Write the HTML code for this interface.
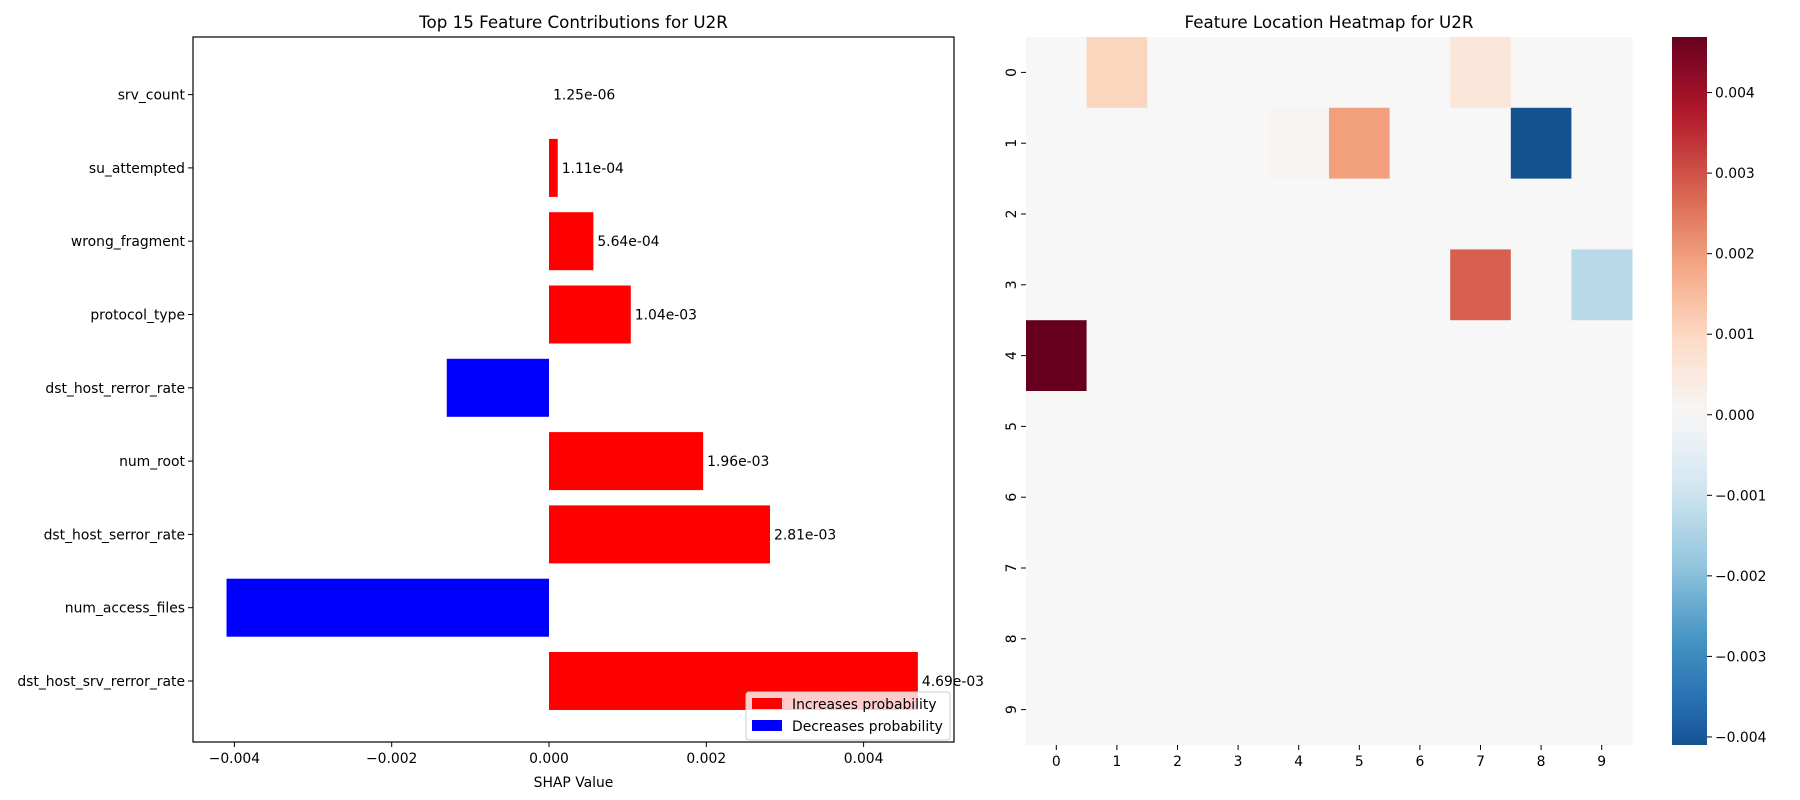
<!DOCTYPE html>
<html><head><meta charset="utf-8"><style>
html,body{margin:0;padding:0;background:#fff}
svg{display:block;font-family:"DejaVu Sans","Liberation Sans",sans-serif}
</style></head><body>
<svg id="chart" width="1800" height="800" viewBox="0 0 1800 800" xmlns="http://www.w3.org/2000/svg"></svg>
<script>
const features = ["dst_host_srv_rerror_rate","num_access_files","dst_host_serror_rate","num_root","dst_host_rerror_rate","protocol_type","wrong_fragment","su_attempted","srv_count"];
const shapValues = [0.00469,-0.0041,0.00281,0.00196,-0.0013,0.00104,0.000564,0.000111,0.00000125];
const valueLabels = ["4.69e-03","","2.81e-03","1.96e-03","","1.04e-03","5.64e-04","1.11e-04","1.25e-06"];
const xTicks = [-0.004,-0.002,0,0.002,0.004];
const xTickLabels = ["\u22120.004","\u22120.002","0.000","0.002","0.004"];
const heatRows = [0,1,2,3,4,5,6,7,8,9];
const heatCols = [0,1,2,3,4,5,6,7,8,9];
const heatCells = [[0,1,0.00104],[0,7,0.000564],[1,4,0.000111],[1,5,0.00196],[1,8,-0.0041],[3,7,0.00281],[3,9,-0.0013],[4,0,0.00469]];
const cbTicks = [0.004,0.003,0.002,0.001,0,-0.001,-0.002,-0.003,-0.004];
const cbTickLabels = ["0.004","0.003","0.002","0.001","0.000","\u22120.001","\u22120.002","\u22120.003","\u22120.004"];

const NS="http://www.w3.org/2000/svg";
const svg=document.getElementById('chart');
function mk(tag,attrs,parent){const e=document.createElementNS(NS,tag);for(const k in attrs)e.setAttribute(k,attrs[k]);(parent||svg).appendChild(e);return e;}
function txt(s,attrs,parent){const e=mk('text',attrs,parent);e.textContent=s;return e;}

// ---- bar chart ----
const L={x0:193,x1:954,y0:37,y1:742};
const xScale=v=>549+v*78650;
const yScale=i=>681-i*73.3;
const bh=58;
let e;
e=txt("Top 15 Feature Contributions for U2R",{x:(L.x0+L.x1)/2,y:28,'text-anchor':'middle','font-size':16.7});


features.forEach((f,i)=>{
  const v=shapValues[i];
  const x=Math.min(xScale(0),xScale(v)), w=Math.abs(xScale(v)-xScale(0));
  const r=mk('rect',{x:x,y:yScale(i)-bh/2,width:w<0.5?0:w,height:bh,fill:v>=0?'#ff0000':'#0000ff'});
  
  
  if(valueLabels[i]){
    const t=txt(valueLabels[i],{x:xScale(Math.max(v,0))+4,y:yScale(i)+5,'font-size':13.9});
    
    
  }
  mk('line',{x1:L.x0,x2:L.x0-5,y1:yScale(i),y2:yScale(i),stroke:'#000','stroke-width':1});
  const yl=txt(f,{x:L.x0-8,y:yScale(i)+5,'text-anchor':'end','font-size':13.9});
  
  
});
xTicks.forEach((t,i)=>{
  const x=xScale(t);
  mk('line',{x1:x,x2:x,y1:L.y1,y2:L.y1+5,stroke:'#000','stroke-width':1});
  const tl=txt(xTickLabels[i],{x:x,y:L.y1+21,'text-anchor':'middle','font-size':13.9});
  
  
});
e=mk('rect',{x:L.x0,y:L.y0,width:L.x1-L.x0,height:L.y1-L.y0,fill:'none',stroke:'#000','stroke-width':1.2});


e=txt("SHAP Value",{x:(L.x0+L.x1)/2,y:787,'text-anchor':'middle','font-size':13.9});


// legend
const lg=mk('g',{});


mk('rect',{x:746,y:692,width:204,height:48,rx:3,fill:'#fff','fill-opacity':0.8,stroke:'#ccc'},lg);
mk('rect',{x:752,y:698,width:30,height:11,fill:'#ff0000'},lg);
txt("Increases probability",{x:792,y:709,'font-size':13.9},lg);
mk('rect',{x:752,y:720,width:30,height:11,fill:'#0000ff'},lg);
txt("Decreases probability",{x:792,y:731,'font-size':13.9},lg);

// ---- heatmap ----
const H={x0:1031,x1:1641,y0:37,y1:745};
H.x0=1026;H.x1=1632;
const cw=(H.x1-H.x0)/10, ch=(H.y1-H.y0)/10;
const stops=["#053061","#2166ac","#4393c3","#92c5de","#d1e5f0","#f7f7f7","#fddbc7","#f4a582","#d6604d","#b2182b","#67001f"];
function hex(c){return [1,3,5].map(i=>parseInt(c.substr(i,2),16));}
function cmap(t){t=Math.max(0,Math.min(1,t));const p=t*10,i=Math.min(9,Math.floor(p)),f=p-i;const a=hex(stops[i]),b=hex(stops[i+1]);return 'rgb('+a.map((v,k)=>Math.round(v+(b[k]-v)*f)).join(',')+')';}
const vmax=Math.max(...heatCells.map(c=>Math.abs(c[2])));
const vmin=Math.min(...heatCells.map(c=>c[2]));
const vtop=Math.max(...heatCells.map(c=>c[2]));
const colorOf=v=>cmap(0.5+v/(2*vmax));
e=txt("Feature Location Heatmap for U2R",{x:(H.x0+H.x1)/2,y:28,'text-anchor':'middle','font-size':16.7});


const grid={};heatCells.forEach(c=>grid[c[0]+','+c[1]]=c[2]);
heatRows.forEach(r=>heatCols.forEach(c=>{
  const v=grid[r+','+c]||0;
  const cell=mk('rect',{x:H.x0+c*cw,y:H.y0+r*ch,width:cw+0.5,height:ch+0.5,fill:colorOf(v)});
  
  
}));
heatRows.forEach(r=>{
  const y=H.y0+(r+0.5)*ch;
  mk('line',{x1:H.x0,x2:H.x0-5,y1:y,y2:y,stroke:'#000'});
  const t=txt(String(r),{x:0,y:0,'text-anchor':'middle','font-size':13.9,transform:'translate('+(H.x0-10)+','+y+') rotate(-90)'});
  
  
});
heatCols.forEach(c=>{
  const x=H.x0+(c+0.5)*cw;
  mk('line',{x1:x,x2:x,y1:H.y1,y2:H.y1+5,stroke:'#000'});
  const t=txt(String(c),{x:x,y:H.y1+21,'text-anchor':'middle','font-size':13.9});
  
  
});
// colorbar
const C={x0:1672,x1:1707,y0:37,y1:745};
const defs=mk('defs',{});
const grad=mk('linearGradient',{id:'cbg',x1:0,y1:0,x2:0,y2:1},defs);
for(let k=0;k<=40;k++){const v=vtop-(vtop-vmin)*k/40;mk('stop',{offset:(k/40),'stop-color':colorOf(v)},grad);}
e=mk('rect',{x:C.x0,y:C.y0,width:C.x1-C.x0,height:C.y1-C.y0,fill:'url(#cbg)'});


const cbY=v=>C.y0+(vtop-v)/(vtop-vmin)*(C.y1-C.y0);
cbTicks.forEach((t,i)=>{
  const y=cbY(t);
  mk('line',{x1:C.x1,x2:C.x1+5,y1:y,y2:y,stroke:'#000'});
  const tl=txt(cbTickLabels[i],{x:C.x1+8,y:y+5,'font-size':13.9});
  
  
});
</script>
</body></html>
